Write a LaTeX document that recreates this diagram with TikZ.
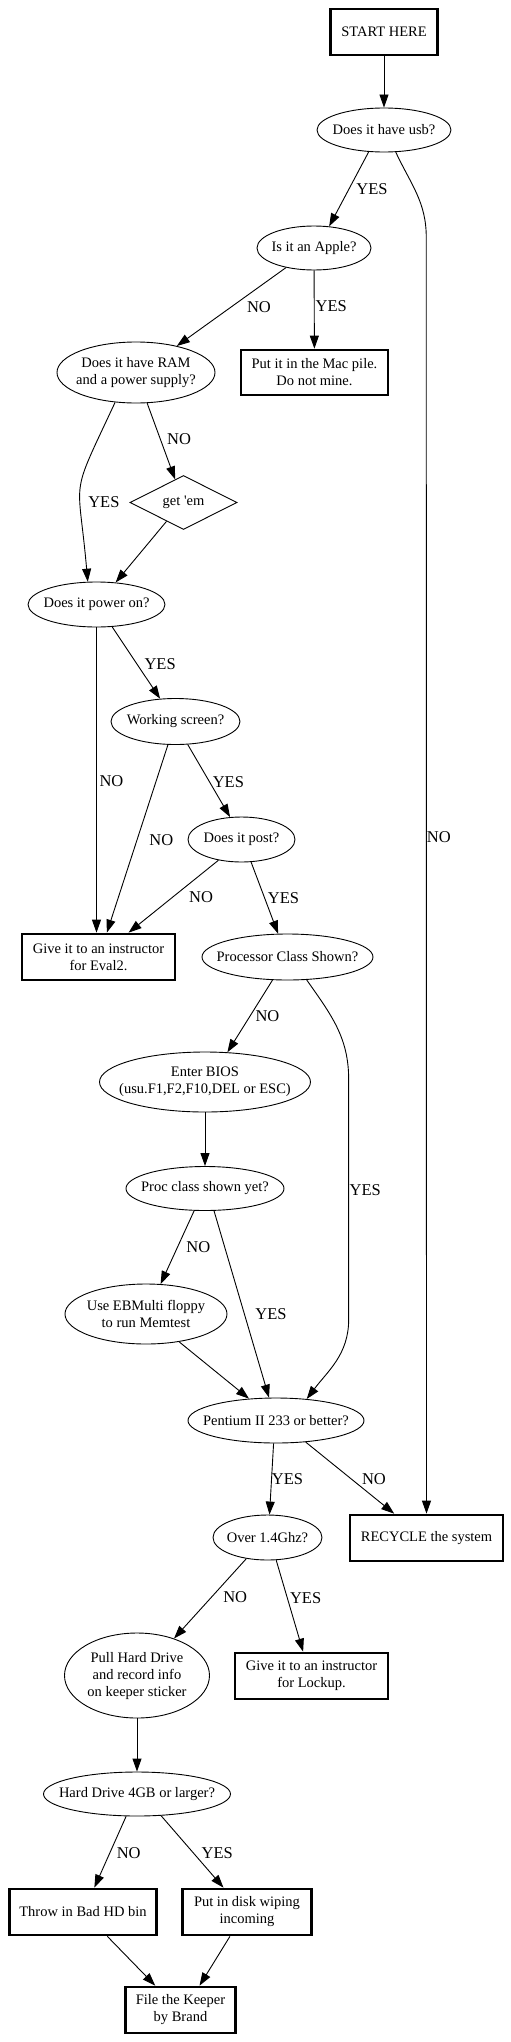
\documentclass[tikz,border=0pt]{standalone}
\usepackage{fontspec}
\setmainfont{Liberation Serif}
\usepackage{tikz}
\usetikzlibrary{shapes.geometric, arrows.meta, positioning}
\newcommand{\boxfont}{\fontsize{14.5}{17}\selectfont}
\newcommand{\edgefont}{\fontsize{16.5}{18}\selectfont}
\tikzstyle{question} = [ellipse, draw=black, line width=0.9pt, inner sep=0pt]
\tikzstyle{decision} = [diamond, draw=black, line width=0.9pt, inner sep=0pt, minimum width=107pt, minimum height=54pt]
\tikzstyle{endbox} = [rectangle, draw=black, line width=2.7pt, minimum height=46pt, inner sep=0pt, text centered, align=center, font=\boxfont]
\tikzstyle{arrow} = [line width=0.9pt, -{Triangle[length=13pt, width=9pt]}]
\tikzstyle{lbl} = [font=\edgefont, inner sep=0pt]

\begin{document}
\begin{tikzpicture}[node distance=118pt, every label/.style={font=\boxfont, align=center, inner sep=0pt}]
\useasboundingbox (-384pt,32pt) rectangle (127pt,-2010pt);

% Main flow
\node (start) [endbox, minimum width=107pt] {START HERE};
\node (usb) [question, below of=start, yshift=20pt, minimum width=134pt, minimum height=44pt, label={center:Does it have usb?}] {};
\node (apple) [question, below of=usb, xshift=-70pt, minimum width=114pt, minimum height=44pt, label={center:Is it an Apple?}] {};
\node (ram) [question, below of=apple, xshift=-178pt, yshift=-6.5pt, minimum width=158pt, minimum height=61pt, label={center:Does it have RAM\\and a power supply?}] {};
\node (mac) [endbox, below of=apple, xshift=0.5pt, yshift=-6.5pt, minimum width=147pt, minimum height=45pt] {Put it in the Mac pile.\\Do not mine.};
\node (getem) [decision, below of=ram, xshift=47.5pt, yshift=-12pt, label={center:get \textquotesingle em}] {};
\node (power) [question, below of=getem, xshift=-87pt, yshift=16pt, minimum width=137pt, minimum height=45pt, label={center:Does it power on?}] {};
\node (screen) [question, below of=power, xshift=79pt, yshift=1pt, minimum width=129pt, minimum height=46pt, label={center:Working screen?}] {};
\node (post) [question, below of=screen, xshift=66pt, minimum width=107pt, minimum height=45pt, label={center:Does it post?}] {};
\node (eval) [endbox, below of=post, xshift=-143pt, yshift=0.5pt, minimum width=153pt] {Give it to an instructor\\for Eval2.};
\node (proc) [question, below of=post, xshift=46pt, yshift=0.5pt, minimum width=171pt, minimum height=46pt, label={center:Processor Class Shown?}] {};
\node (bios) [question, below of=proc, xshift=-82.5pt, yshift=-7pt, minimum width=211pt, minimum height=60pt, label={center:{Enter BIOS\\(usu.F1,F2,F10,DEL or ESC)}}] {};
\node (procyet) [question, below of=bios, yshift=11.5pt, minimum width=158pt, minimum height=44pt, label={center:Proc class shown yet?}] {};
\node (memtest) [question, below of=procyet, xshift=-59pt, yshift=-7.5pt, minimum width=162pt, minimum height=60pt, label={center:Use EBMulti floppy\\to run Memtest}] {};
\node (pentium) [question, below of=memtest, xshift=130pt, yshift=11.5pt, minimum width=176pt, minimum height=45pt, label={center:Pentium II 233 or better?}] {};
\node (over) [question, below of=pentium, xshift=-8.5pt, yshift=1pt, minimum width=109pt, minimum height=45pt, label={center:Over 1.4Ghz?}] {};
\node (recycle) [endbox, below of=pentium, xshift=150.5pt, yshift=0.5pt, minimum width=153pt] {RECYCLE the system};
\node (pull) [question, below of=over, xshift=-130.5pt, yshift=-20pt, minimum width=145pt, minimum height=85pt, label={center:Pull Hard Drive\\and record info\\on keeper sticker}] {};
\node (lockup) [endbox, below of=over, xshift=44pt, yshift=-20.5pt, minimum width=153pt] {Give it to an instructor\\for Lockup.};
\node (hd) [question, below of=pull, yshift=-0.5pt, minimum width=187pt, minimum height=44pt, label={center:Hard Drive 4GB or larger?}] {};
\node (bad) [endbox, below of=hd, xshift=-54pt, minimum width=147pt] {Throw in Bad HD bin};
\node (wipe) [endbox, below of=hd, xshift=110pt, minimum width=129pt] {Put in disk wiping\\incoming};
\node (file) [endbox, below of=bad, xshift=97.5pt, yshift=20pt, minimum width=110pt] {File the Keeper\\by Brand};

% Arrows
\draw [arrow] (start) -- (usb);
\draw [arrow] (usb.-125) -- node[lbl, xshift=23pt] {YES} (apple.55);
\draw [arrow] (usb.-62) to[out=-65, in=90] ++(30.5pt,-85pt) -- node[lbl, pos=0.47, xshift=12.5pt] {NO} (recycle.north);
\draw [arrow] (apple.-145) -- node[lbl, xshift=27.5pt] {NO} (ram.33);
\draw [arrow] (apple) -- node[lbl, xshift=17pt, yshift=3pt] {YES} (mac);
\draw [arrow] (ram.-125) to[out=-115, in=95, distance=110pt] node[lbl, xshift=23.5pt, yshift=-14pt] {YES} (power.111);
\draw [arrow] (ram.-70) -- node[lbl, xshift=18pt, yshift=2pt] {NO} (getem.110);
\draw [arrow] (getem.-132) -- (power.49);
\draw [arrow] (power.south) -- node[lbl, xshift=15pt, yshift=-1pt] {NO} (power.south |- eval.north);
\draw [arrow] (power.-55) -- node[lbl, xshift=24pt, yshift=-1pt] {YES} (screen.124);
\draw [arrow] (screen.-108) -- node[lbl, xshift=24pt, yshift=-1pt] {NO} (eval.71);
\draw [arrow] (screen.-62) -- node[lbl, xshift=19.5pt, yshift=-1pt] {YES} (post.117);
\draw [arrow] (post.-138) -- node[lbl, xshift=27.5pt, yshift=-1pt] {NO} (eval.39);
\draw [arrow] (post.-67) -- node[lbl, xshift=19pt] {YES} (proc.112);
\draw [arrow] (proc.-123) -- node[lbl, xshift=17.5pt] {NO} (bios.53);
\draw [arrow] (proc.-50) to[out=-55, in=90] ++(42pt,-99.5pt) -- node[lbl, pos=0.46, xshift=16.5pt] {YES} ++(0pt,-240pt) to[out=-90, in=53] (pentium.35);
\draw [arrow] (bios) -- (procyet);
\draw [arrow] (procyet.-116) -- node[lbl, xshift=21pt] {NO} (memtest.64);
\draw [arrow] (procyet.-68) -- node[lbl, xshift=29.5pt, yshift=-9.5pt] {YES} (pentium.107);
\draw [arrow] (memtest.-40) -- (pentium.141);
\draw [arrow] (pentium.-96) -- node[lbl, xshift=16pt] {YES} (over.85);
\draw [arrow] (pentium.-36) -- node[lbl, xshift=24pt, yshift=-1.5pt] {NO} (recycle.143);
\draw [arrow] (over.-135) -- node[lbl, xshift=25pt, yshift=1pt] {NO} (pull.45);
\draw [arrow] (over.-69) -- node[lbl, xshift=16pt, yshift=8pt] {YES} (lockup.109);
\draw [arrow] (pull) -- (hd);
\draw [arrow] (hd.-116) -- node[lbl, xshift=18.5pt, yshift=-1pt] {NO} (bad.65);
\draw [arrow] (hd.-42) -- node[lbl, xshift=25pt, yshift=-1pt] {YES} (wipe.134);
\draw [arrow] (bad.-45) -- (file.136);
\draw [arrow] (wipe.-125) -- (file.52);

\end{tikzpicture}
\end{document}
